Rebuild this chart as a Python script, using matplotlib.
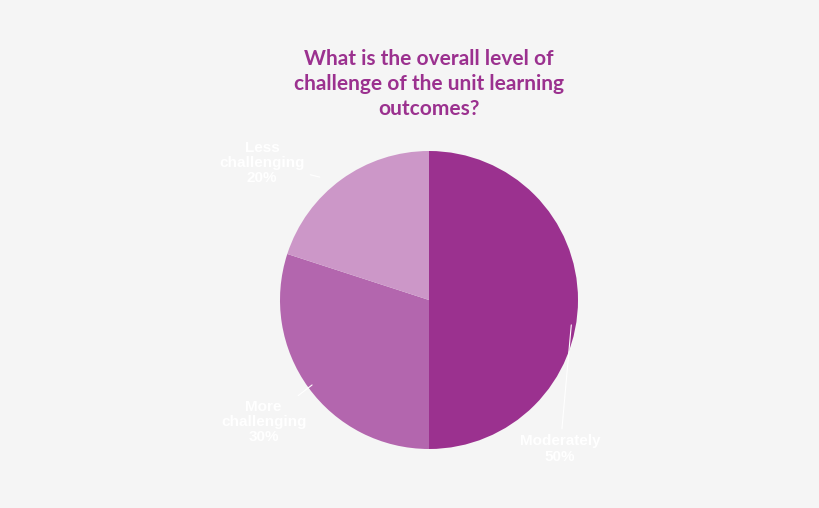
import matplotlib
matplotlib.use("Agg")
import matplotlib.pyplot as plt
import numpy as np

labels = ["Moderately", "More\nchallenging", "Less\nchallenging"]
shares = [50, 30, 20]
colors = ["#9b318f", "#b366ae", "#cc97c8"]
# label text positions (in pie radius units)
label_xy = [(0.88, -1.0), (-1.11, -0.82), (-1.12, 0.92)]

fig = plt.figure(figsize=(8.2, 5.08), dpi=100)
fig.patch.set_facecolor("#f5f5f5")

fig.text(0.523, 0.835, "What is the overall level of\nchallenge of the unit learning\noutcomes?",
         ha="center", va="center", color="#9b318f", fontsize=15, fontweight="bold",
         family="Lato", linespacing=1.3)

ax = fig.add_axes([280/820, 59/508, 298/820, 298/508])
wedges, _ = ax.pie(shares, colors=colors, startangle=90, counterclock=False,
                   wedgeprops=dict(linewidth=0))
ax.set_xlim(-1, 1)
ax.set_ylim(-1, 1)
ax.set_aspect("equal")

for w, lab, val, (tx, ty) in zip(wedges, labels, shares, label_xy):
    ang = np.deg2rad((w.theta1 + w.theta2) / 2)
    ex, ey = np.cos(ang), np.sin(ang)
    ax.annotate(f"{lab}\n{val}%", xy=(ex * 0.97, ey * 0.97), xytext=(tx, ty),
                ha="center", va="center", color="white", fontsize=11,
                fontweight="bold", family="Liberation Sans", linespacing=1.1,
                arrowprops=dict(arrowstyle="-", color="white", lw=0.8, shrinkB=18),
                annotation_clip=False)

fig.savefig("out.png", dpi=100, facecolor=fig.get_facecolor())
